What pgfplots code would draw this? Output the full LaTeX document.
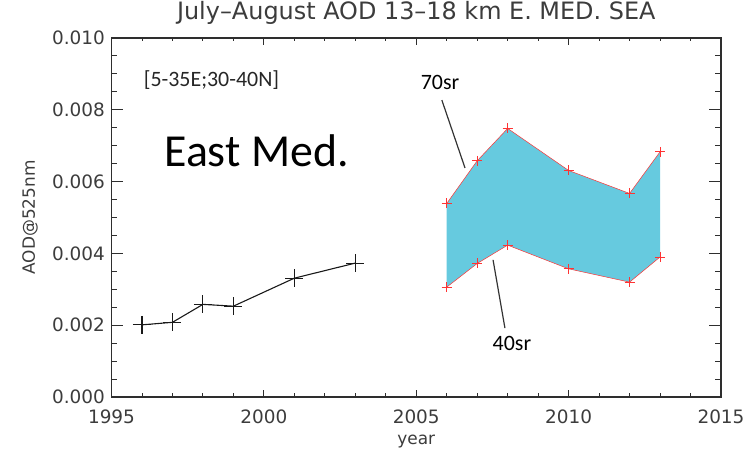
\documentclass[border=0pt]{standalone}
\usepackage{fontspec}
\setmainfont{DejaVu Sans}
\newfontfamily\notefont{Carlito}
\usepackage{pgfplots}
\pgfplotsset{compat=1.18}

\definecolor{bandblue}{HTML}{66CADF}
\definecolor{axisgray}{HTML}{2E2E2E}
\definecolor{textgray}{HTML}{3C3C3C}

% 40 sr and 70 sr lidar-ratio bounds, 2006-2013
\pgfplotstableread{
year  low     high
2006  0.00306 0.00539
2007  0.00372 0.00658
2008  0.00423 0.00748
2010  0.00357 0.00631
2012  0.00320 0.00567
2013  0.00390 0.00683
}\bandtable

\begin{document}
\begin{tikzpicture}
\useasboundingbox (-111.5bp,-56bp) rectangle (639.5bp,397bp);
\begin{axis}[
  at={(0,0)}, anchor=south west,
  width=609.5bp, height=359bp, scale only axis,
  xmin=1995, xmax=2015, ymin=0, ymax=0.010,
  xtick={1995,2000,2005,2010,2015}, minor x tick num=4,
  ytick={0,0.002,0.004,0.006,0.008,0.010}, minor y tick num=3,
  tick align=inside, tick pos=both,
  major tick length=12bp, minor tick length=6bp,
  xtick style={/pgfplots/major tick length=7bp, /pgfplots/minor tick length=3.5bp},
  axis line style={axisgray, line width=1.1pt},
  every tick/.style={axisgray, line width=0.9pt},
  scaled y ticks=false,
  yticklabel style={/pgf/number format/.cd, fixed, fixed zerofill, precision=3, /tikz/.cd,
    font=\fontsize{18.5}{19}\selectfont, text=textgray, inner sep=0pt, anchor=east, xshift=-6.5bp},
  xticklabel style={/pgf/number format/.cd, set thousands separator={}, /tikz/.cd,
    font=\fontsize{18.5}{19}\selectfont, text=textgray, inner sep=0pt, anchor=north, yshift=-13bp},
  /pgf/number format/assume math mode=true,
  title={July--August AOD 13--18 km E. MED. SEA},
  title style={font=\fontsize{24}{25}\selectfont, text=textgray, at={(axis description cs:0.5,1.0529)}, anchor=center, inner sep=0pt},
  xlabel={year},
  xlabel style={font=\fontsize{17}{18}\selectfont, text=textgray, at={(axis description cs:0.5,-0.1253)}, anchor=center, inner sep=0pt},
  ylabel={AOD@525nm},
  ylabel style={font=\fontsize{17}{18}\selectfont, text=textgray, at={(axis description cs:-0.1337,0.5)}, anchor=center, inner sep=0pt},
  clip=false,
]
% shaded range between the two lidar ratios
\addplot[fill=bandblue, draw=none] coordinates {
  (2006,0.00539) (2007,0.00658) (2008,0.00748) (2010,0.00631) (2012,0.00567) (2013,0.00683)
  (2013,0.00390) (2012,0.00320) (2010,0.00357) (2008,0.00423) (2007,0.00372) (2006,0.00306)
} -- cycle;
\addplot[red!80, line width=0.5pt, mark=+, mark size=5bp, mark options={line width=0.8pt}] table[x=year, y=high] {\bandtable};
\addplot[red!80, line width=0.5pt, mark=+, mark size=5bp, mark options={line width=0.8pt}] table[x=year, y=low] {\bandtable};

% earlier record
\addplot[black!90, line width=1.1pt, mark=+, mark size=9bp] coordinates {
  (1996,0.00201) (1997,0.00208) (1998,0.00258) (1999,0.00253) (2001,0.00331) (2003,0.00373)
};

% annotations
\node[font=\notefont\fontsize{22}{23}\selectfont, text=black!85] at (axis cs:1998.28,0.00883) {[5-35E;30-40N]};
\node[font=\notefont\fontsize{46}{48}\selectfont] at (axis cs:1999.76,0.00685) {East Med.};
\node[font=\notefont\fontsize{22}{23}\selectfont] at (axis cs:2005.78,0.00875) {70sr};
\node[font=\notefont\fontsize{22}{23}\selectfont] at (axis cs:2008.14,0.00149) {40sr};
\draw[black!80, line width=1.2pt] (axis cs:2005.84,0.00827) -- (axis cs:2006.60,0.00638);
\draw[black!80, line width=1.2pt] (axis cs:2007.52,0.00382) -- (axis cs:2007.91,0.00192);
\end{axis}
\end{tikzpicture}
\end{document}
